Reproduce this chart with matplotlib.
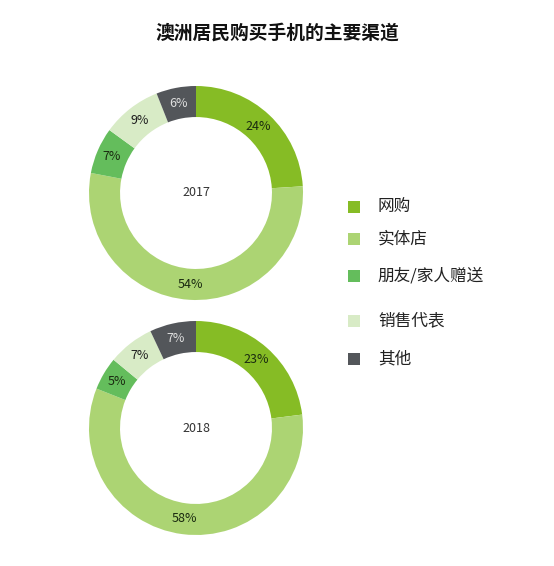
import numpy as np
import matplotlib
matplotlib.use("Agg")
import matplotlib.pyplot as plt
from matplotlib.patches import Rectangle

plt.rcParams['font.family'] = ['Noto Sans CJK SC', 'DejaVu Sans']

title = "澳洲居民购买手机的主要渠道"
channels = ["网购", "实体店", "朋友/家人赠送", "销售代表", "其他"]
years = ["2017", "2018"]
share_2017 = [24, 54, 7, 9, 6]
share_2018 = [23, 58, 5, 7, 7]
colors = ["#86bc25", "#acd473", "#64bd5c", "#d8ebc6", "#53565a"]
label_colors = ["#1a2a10", "#1a2a10", "#1a2a10", "#1e1e1e", "#e0e0e0"]

W, H = 554, 566
fig = plt.figure(figsize=(W / 100, H / 100), dpi=100)

fig.text(277 / W, 1 - 33 / H, title, ha="center", va="center",
         fontsize=13.5, fontweight="bold", color="#111111")

def donut(cx, cy, r, values, year):
    m = 1.05
    ax = fig.add_axes([(cx - r * m) / W, 1 - (cy + r * m) / H,
                       2 * r * m / W, 2 * r * m / H])
    width = 0.29
    ax.pie(values, colors=colors, startangle=90, counterclock=False,
           radius=1, wedgeprops=dict(width=width, linewidth=0))
    total = sum(values)
    ang = 90.0
    for v, lc in zip(values, label_colors):
        mid = ang - v / total * 360 / 2
        ang -= v / total * 360
        rr = 1 - width / 2
        ax.text(rr * np.cos(np.radians(mid)), rr * np.sin(np.radians(mid)),
                f"{v}%", ha="center", va="center", fontsize=9, color=lc)
    ax.text(0, 0, year, ha="center", va="center", fontsize=9, color="#333333")
    ax.set_xlim(-m, m)
    ax.set_ylim(-m, m)
    ax.set_aspect("equal")
    ax.axis("off")

donut(196, 193, 107, share_2017, years[0])
donut(196, 428, 107, share_2018, years[1])

legend_y = [207, 239, 276, 321, 359]
for name, c, y in zip(channels, colors, legend_y):
    fig.patches.append(Rectangle((348 / W, 1 - (y + 6) / H), 12 / W, 12 / H,
                                 facecolor=c, edgecolor="none",
                                 transform=fig.transFigure, figure=fig))
    fig.text(378 / W, 1 - y / H, name, ha="left", va="center",
             fontsize=12, color="#222222")

fig.savefig("out.png", dpi=100, facecolor="white")
